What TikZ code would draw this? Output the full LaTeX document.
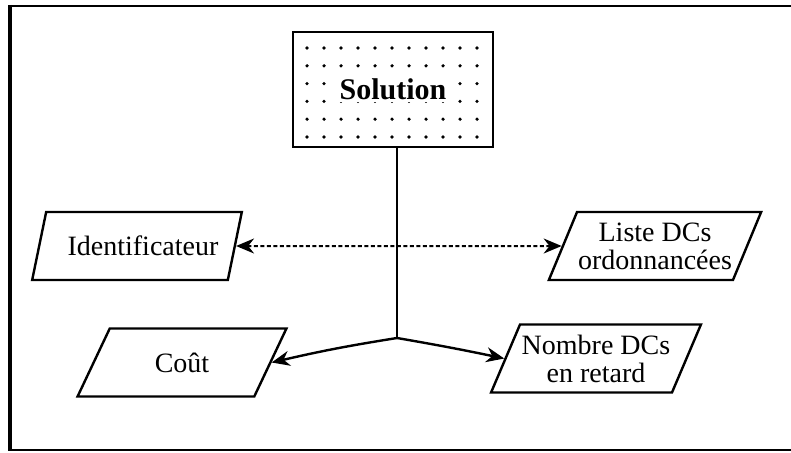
\documentclass[tikz,border=0pt]{standalone}
\usepackage{fontspec}
\setmainfont{Liberation Serif}
\usetikzlibrary{shapes.geometric,arrows.meta}

\tikzset{
  datashape/.style={trapezium, draw, line width=2.4pt,
    trapezium left angle=60, trapezium right angle=120,
    trapezium stretches=true, minimum width=210pt, minimum height=68pt,
    inner sep=1pt, align=center, font=\fontsize{28}{28}\selectfont},
  solbox/.style={rectangle, draw, line width=2.6pt,
    minimum width=200pt, minimum height=115pt},
  soltext/.style={fill=white, inner sep=2pt,
    font=\fontsize{30}{30}\selectfont\bfseries},
  link/.style={line width=2.4pt},
  dlink/.style={line width=2pt, dash pattern=on 4pt off 2.5pt},
  arrowhead/.tip={Stealth[length=18pt,width=15pt]},
  griddot/.style={fill=black}
}

\begin{document}
\begin{tikzpicture}[x=1pt, y=-1pt]
  \useasboundingbox (0,0) rectangle (791,452);

  % outer frame (right side runs past the page edge)
  \draw[line width=2.6pt] (800,6) -- (10,6) -- (10,450) -- (800,450);
  \draw[line width=4.5pt] (10,5) -- (10,451);

  % dotted result box
  \node[solbox] (sol) at (393,89.5) {};
  \foreach \i in {0,...,10}
    \foreach \j in {0,...,5}
      \fill[griddot] (307+17*\i, 48+17.8*\j) circle (1.8pt);
  \node[soltext] (soltxt) at (sol.center) {Solution};

  % attribute shapes
  \node[datashape] (ident) at (137,246) {\hspace*{12pt}Identificateur};
  \node[datashape] (liste) at (655,246) {Liste DCs\\ordonnanc\'ees};
  \node[datashape] (cout)  at (182,362.5) {Co\^ut};
  \node[datashape] (nombre) at (596,358.5) {Nombre DCs\\en retard};

  % branch point under the box
  \coordinate (j) at (397,338);

  \draw[link] (sol.south -| j) -- (j);
  \draw[link, -arrowhead] (j) to[bend right=2] (cout.east);
  \draw[link, -arrowhead] (j) to[bend left=1] (nombre.west);
  \draw[dlink, arrowhead-arrowhead] (ident) -- (liste);
\end{tikzpicture}
\end{document}
